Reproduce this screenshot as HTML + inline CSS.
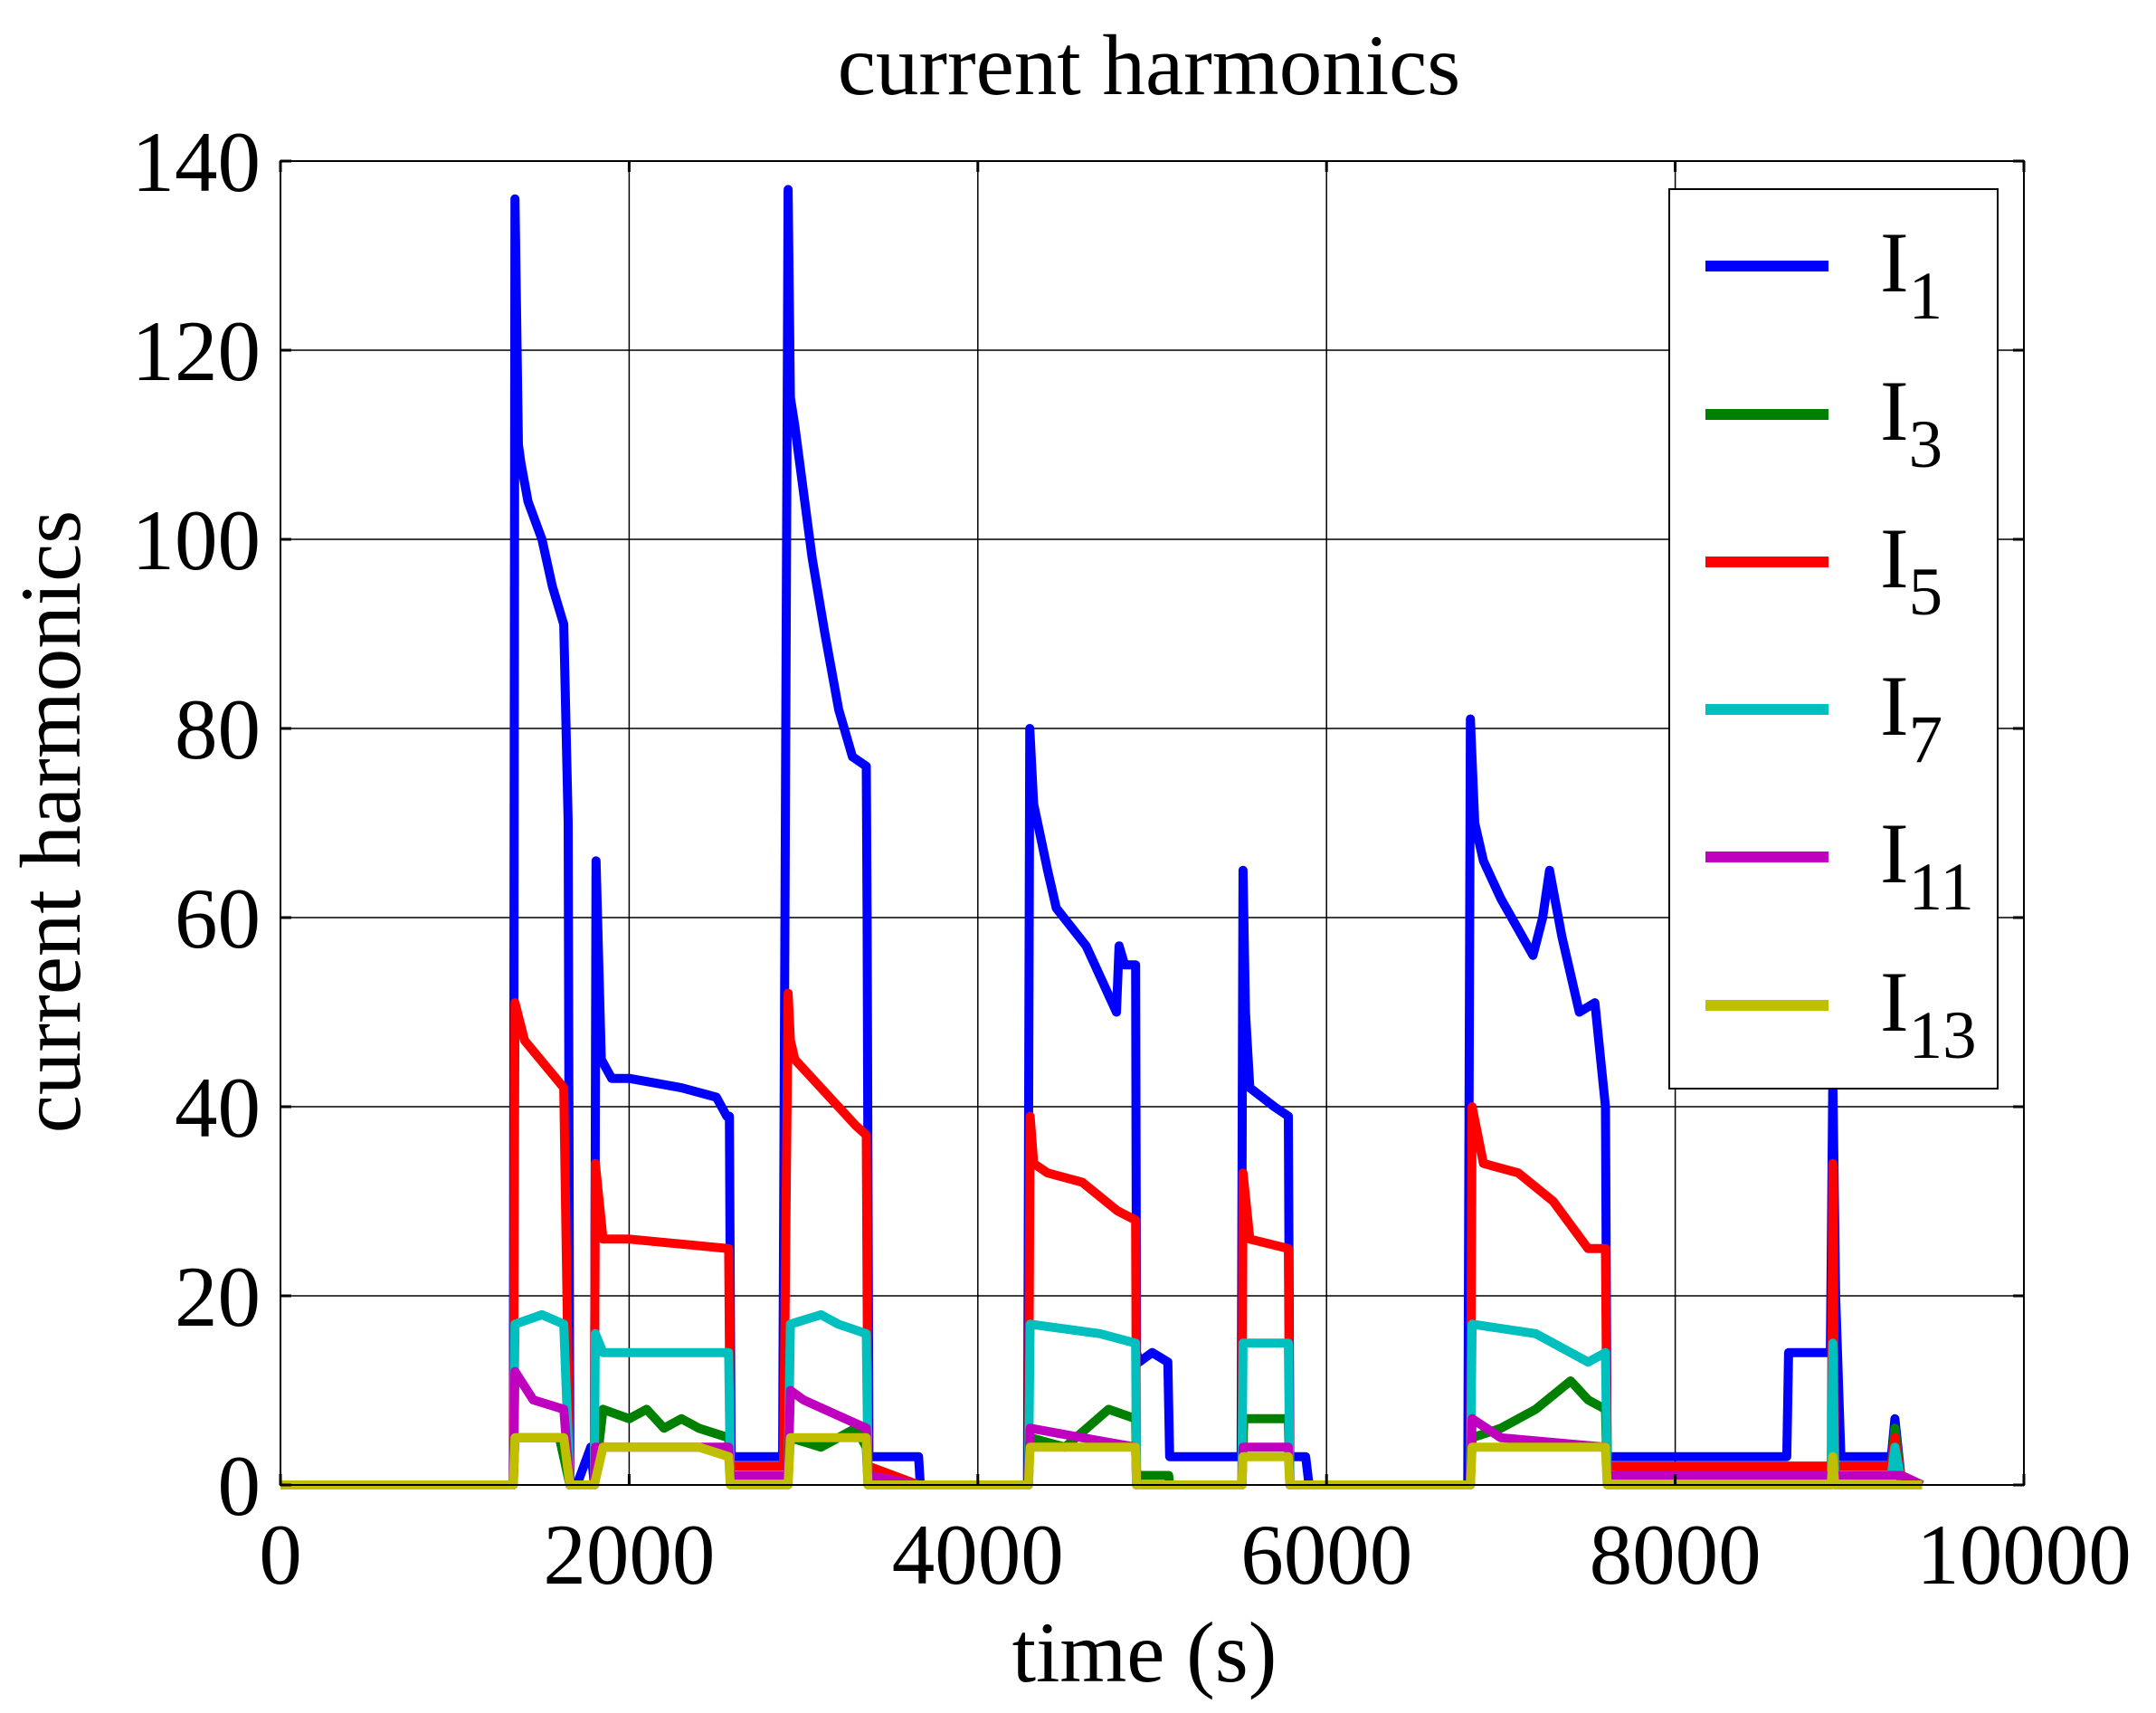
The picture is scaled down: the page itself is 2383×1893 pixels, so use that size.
<!DOCTYPE html>
<html><head><meta charset="utf-8"><style>
html,body{margin:0;padding:0;background:#fff;}
svg text{font-family:"Liberation Serif",serif;fill:#000;}
</style></head><body>
<svg id="chart" width="2383" height="1888" xmlns="http://www.w3.org/2000/svg">
<rect x="0" y="0" width="2383" height="1888" fill="#fff"/>
<text x="1270" y="104" font-size="95" text-anchor="middle">current harmonics</text>
<g id="grid"></g>
<g id="series"></g>
<g id="axes"></g>
<text x="1265" y="1858" font-size="95" text-anchor="middle">time (s)</text>
<text transform="translate(88,908) rotate(-90)" font-size="95" text-anchor="middle">current harmonics</text>
<g id="legend"></g>
</svg>
<script>
const xTicks=[0,2000,4000,6000,8000,10000];
const yTicks=[0,20,40,60,80,100,120,140];
const seriesNames=["I1","I3","I5","I7","I11","I13"];
const seriesSubs=["1","3","5","7","11","13"];
const seriesColors=["#0000ff","#008000","#ff0000","#00bfbf","#bf00bf","#bfbf00"];
const t1=[0,1335,1345,1365,1380,1420,1500,1560,1625,1650,1660,1700,1780,1800,1810,1840,1900,2000,2300,2500,2560,2575,2585,2880,2912,2925,2950,3000,3050,3123,3202,3281,3360,3365,3375,3660,3670,4285,4298,4320,4400,4450,4621,4795,4810,4842,4905,4910,4925,5000,5090,5100,5510,5521,5535,5560,5700,5781,5790,5880,5900,6810,6825,6850,6900,7000,7184,7240,7279,7350,7450,7539,7600,7610,7625,8640,8650,8890,8904,8920,8950,9240,9260,9300,9416];
const v1=[0,0,136,110,108,104,100,95,91,70,0,0,4,0,66,45,43,43,42,41,39,39,3,3,137,115,112,105,98,90,82,77,76,60,3,3,0,0,80,72,65,61,57,50,57,55,55,14,13,14,13,3,3,65,50,42,40,39,3,3,0,0,81,70,66,62,56,60,65,58,50,51,40,3,3,3,14,14,43,20,3,3,7,0,0];
const t3=[0,1335,1345,1600,1660,1800,1850,2000,2100,2200,2300,2400,2571,2580,2912,2925,3100,3300,3360,3370,4290,4300,4500,4750,4905,4910,5095,5100,5515,5525,5781,5790,6825,6835,7000,7200,7400,7500,7600,7610,8900,9240,9260,9300,9416];
const v3=[0,0,5,5,0,0,8,7,8,6,7,6,5,1,1,5,4,6,4,0,0,5,4,8,7,1,1,0,0,7,7,0,0,5,6,8,11,9,8,1,2,2,6,0,0];
const t5=[0,1335,1345,1400,1625,1660,1800,1806,1850,2000,2571,2580,2886,2912,2925,2950,3100,3300,3360,3370,3660,4290,4300,4320,4400,4600,4800,4905,4910,5515,5521,5560,5781,5790,6825,6835,6900,7100,7300,7500,7600,7610,8895,8904,8915,9240,9260,9300,9416];
const v5=[0,0,51,47,42,0,0,34,26,26,25,2,2,52,47,45,42,38,37,2,0,0,39,34,33,32,29,28,0,0,33,26,25,0,0,40,34,33,30,25,25,2,2,34,2,2,5,0,0];
const t7=[0,1335,1345,1500,1625,1660,1800,1806,1850,2000,2571,2580,2912,2925,3100,3200,3360,3370,3660,4290,4300,4700,4905,4910,5515,5521,5781,5790,6825,6835,7200,7500,7600,7610,8895,8904,8915,9240,9260,9300,9416];
const v7=[0,0,17,18,17,0,0,16,14,14,14,1,1,17,18,17,16,1,0,0,17,16,15,0,0,15,15,0,0,17,16,13,14,1,1,15,1,1,4,0,0];
const t11=[0,1335,1345,1450,1625,1660,1800,1806,2571,2580,2912,2925,3000,3360,3370,3660,4290,4300,4600,4905,4910,5515,5521,5781,5790,6825,6835,7000,7600,7610,9300,9416];
const v11=[0,0,12,9,8,0,0,4,4,1,1,10,9,6,1,0,0,6,5,4,0,0,4,4,0,0,7,5,4,1,1,0];
const t13=[0,1335,1345,1625,1660,1800,1850,2400,2571,2580,2912,2925,3360,3370,4290,4300,4905,4910,5515,5521,5781,5790,6825,6835,7600,7610,8895,8904,8915,9416];
const v13=[0,0,5,5,0,0,4,4,3,0,0,5,5,0,0,4,4,0,0,3,3,0,0,4,4,0,0,3,0,0];
const seriesT=[t1,t3,t5,t7,t11,t13];
const seriesV=[v1,v3,v5,v7,v11,v13];

const L=310,R=2237,T=178,B=1641;
const xs=t=>L+(t-0)/(10000-0)*(R-L);
const ys=v=>B-(v-0)/(140-0)*(B-T);
const NS="http://www.w3.org/2000/svg";
function mk(tag,attrs,parent){const e=document.createElementNS(NS,tag);for(const k in attrs)e.setAttribute(k,attrs[k]);parent.appendChild(e);return e;}
const grid=document.getElementById('grid'),axes=document.getElementById('axes'),ser=document.getElementById('series'),leg=document.getElementById('legend');
xTicks.forEach(t=>{
  const x=xs(t);
  if(t>0&&t<10000){const g=mk('line',{x1:x,x2:x,y1:T,y2:B,stroke:'#000','stroke-width':1.5},grid);
  
  }
  mk('line',{x1:x,x2:x,y1:B,y2:B-12,stroke:'#000','stroke-width':3},axes);
  mk('line',{x1:x,x2:x,y1:T,y2:T+12,stroke:'#000','stroke-width':3},axes);
  const lb=mk('text',{x:x,y:1750,'font-size':95,'text-anchor':'middle'},axes);lb.textContent=t;
  
  
});
yTicks.forEach(v=>{
  const y=ys(v);
  if(v>0&&v<140){const g=mk('line',{x1:L,x2:R,y1:y,y2:y,stroke:'#000','stroke-width':1.5},grid);
  
  }
  mk('line',{x1:L,x2:L+12,y1:y,y2:y,stroke:'#000','stroke-width':3},axes);
  mk('line',{x1:R,x2:R-12,y1:y,y2:y,stroke:'#000','stroke-width':3},axes);
  const lb=mk('text',{x:288,y:y+33,'font-size':95,'text-anchor':'end'},axes);lb.textContent=v;
  
  
});
const fr=mk('rect',{x:L,y:T,width:R-L,height:B-T,fill:'none',stroke:'#000','stroke-width':2},axes);


seriesNames.forEach((n,i)=>{
  const pts=seriesT[i].map((t,j)=>xs(t).toFixed(1)+','+ys(seriesV[i][j]).toFixed(1)).join(' ');
  const p=mk('polyline',{points:pts,fill:'none',stroke:seriesColors[i],'stroke-width':10,'stroke-linejoin':'round'},ser);
  
  
});
const lbox=mk('rect',{x:1845,y:209,width:363,height:994,fill:'#fff',stroke:'#000','stroke-width':2},leg);


const rowY=[294,458,621,784,947,1111];
seriesNames.forEach((n,i)=>{
  const g=mk('g',{},leg);
  
  
  mk('line',{x1:1885,x2:2021,y1:rowY[i],y2:rowY[i],stroke:seriesColors[i],'stroke-width':12},g);
  const tx=mk('text',{x:2078,y:rowY[i]+28,'font-size':95},g);
  tx.textContent='I';
  const sb=mk('tspan',{dy:30,'font-size':75},tx);sb.textContent=seriesSubs[i];
});
</script>
</body></html>
